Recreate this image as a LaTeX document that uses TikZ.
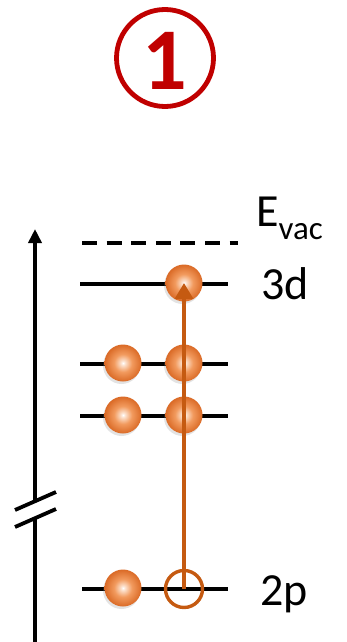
\documentclass[tikz,border=0pt]{standalone}
\usepackage{fontspec}
\setmainfont{Carlito}
\usetikzlibrary{arrows.meta,shadows}
\definecolor{numred}{RGB}{192,0,0}
\definecolor{arrorange}{RGB}{197,90,17}
\definecolor{ballhi}{RGB}{252,225,205}
\definecolor{ballmid}{RGB}{242,155,95}
\definecolor{balledge}{RGB}{218,106,38}
\pgfdeclareradialshading{orangeball}{\pgfpointorigin}{color(0bp)=(white); color(3bp)=(ballhi); color(12bp)=(ballmid); color(25bp)=(balledge); color(50bp)=(balledge)}
\tikzset{
  level/.style={line width=3.3pt, black},
  ball/.style={circle, minimum size=37pt, inner sep=0pt, shading=orangeball,
    drop shadow={opacity=0.22, shadow xshift=-1.5pt, shadow yshift=-2.5pt}},
  hole/.style={circle, minimum size=37pt, inner sep=0pt, draw=arrorange, line width=3.4pt},
  lbl/.style={anchor=base west, inner sep=0pt, font=\fontsize{46}{46}\selectfont},
  axisline/.style={line width=3.8pt, black},
  excite/.style={line width=3.6pt, arrorange, -{Triangle[length=16pt,width=18pt]}}
}
\begin{document}
\begin{tikzpicture}[x=1pt,y=-1pt]
\useasboundingbox (0,0) rectangle (346,642);
% circled number
\node[circle, draw=numred, line width=4.8pt, minimum size=97pt, inner sep=0pt] (num) at (165,58) {};
\node[text=numred, font=\fontsize{88}{88}\selectfont\bfseries, anchor=base, inner sep=0pt] (one) at (165,89) {1};
% axis
\coordinate (axtop) at (35,229);
\coordinate (axbrk1) at (35,501);
\coordinate (axbrk2) at (35,518);
\coordinate (axbot) at (35,642);
\draw[axisline, -{Triangle[length=14pt,width=13pt]}] (axbrk1) -- (axtop);
\draw[axisline] (axbrk2) -- (axbot);
\coordinate (s1a) at (15,510); \coordinate (s1b) at (56,492);
\coordinate (s2a) at (15,527); \coordinate (s2b) at (56,509);
\draw[axisline] (s1a) -- (s1b);
\draw[axisline] (s2a) -- (s2b);
% vacuum level
\coordinate (vacL) at (82,243); \coordinate (vacR) at (238,243);
\draw[level, dash pattern=on 15pt off 9.6pt] (vacL) -- (vacR);
\node[lbl] (evac) at (256,226) {E\raisebox{-13pt}{\fontsize{33}{33}\selectfont vac}};
% 3d level
\coordinate (l3L) at (80,284); \coordinate (l3R) at (228,284);
\draw[level] (l3L) -- (l3R);
\node[lbl] (t3d) at (261,299) {3d};
% middle levels
\coordinate (l2L) at (80,364); \coordinate (l2R) at (228,364);
\draw[level] (l2L) -- (l2R);
\coordinate (l1L) at (80,416); \coordinate (l1R) at (228,416);
\draw[level] (l1L) -- (l1R);
% 2p level
\coordinate (l0L) at (82,589); \coordinate (l0R) at (228,589);
\draw[level] (l0L) -- (l0R);
\node[lbl] (t2p) at (260,605) {2p};
% electrons
\node[ball] (b3) at (184,283) {};
\node[ball] (b2a) at (123,363) {};
\node[ball] (b2b) at (184,363) {};
\node[ball] (b1a) at (123,415) {};
\node[ball] (b1b) at (184,415) {};
\node[ball] (b0a) at (123,588) {};
\node[hole] (h) at (184,589) {};
% excitation arrow
\draw[excite] (h.center) -- (b3.center);
\end{tikzpicture}
\end{document}
